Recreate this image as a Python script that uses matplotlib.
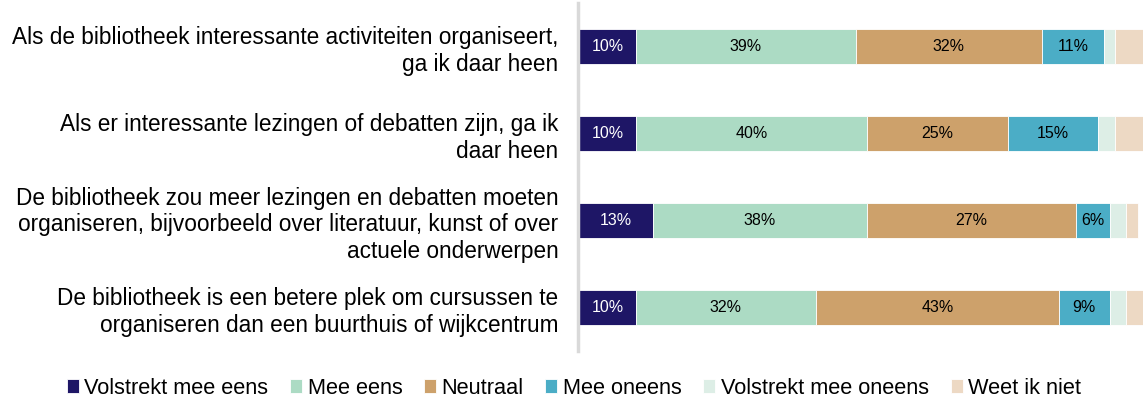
import numpy as np
import matplotlib.pyplot as plt

plt.rcParams['font.family'] = ['Liberation Sans', 'DejaVu Sans']

# stellingen (van boven naar beneden)
statements = [
    "Als de bibliotheek interessante activiteiten organiseert,\nga ik daar heen",
    "Als er interessante lezingen of debatten zijn, ga ik\ndaar heen",
    "De bibliotheek zou meer lezingen en debatten moeten\norganiseren, bijvoorbeeld over literatuur, kunst of over\nactuele onderwerpen",
    "De bibliotheek is een betere plek om cursussen te\norganiseren dan een buurthuis of wijkcentrum",
]
categories = ["Volstrekt mee eens", "Mee eens", "Neutraal", "Mee oneens",
              "Volstrekt mee oneens", "Weet ik niet"]
colors = ["#1e1666", "#acdbc4", "#cda16b", "#4badc6", "#ddeee6", "#edd9c4"]

# segment widths
volstrekt_eens = [10, 10, 13, 10]
mee_eens = [39, 41, 38, 32]
neutraal = [33, 25, 37, 43]
mee_oneens = [11, 16, 6, 9]
volstrekt_oneens = [2, 3, 3, 3]
weet_niet = [5, 5, 2, 3]

# printed labels
lab_volstrekt_eens = ["10%", "10%", "13%", "10%"]
lab_mee_eens = ["39%", "40%", "38%", "32%"]
lab_neutraal = ["32%", "25%", "27%", "43%"]
lab_mee_oneens = ["11%", "15%", "6%", "9%"]

series = [volstrekt_eens, mee_eens, neutraal, mee_oneens, volstrekt_oneens, weet_niet]
labels = [lab_volstrekt_eens, lab_mee_eens, lab_neutraal, lab_mee_oneens, None, None]

fig = plt.figure(figsize=(11.48, 4.13), dpi=100)
ax = fig.add_axes([0.5045, 0.15, 0.4915, 0.843])

y = np.arange(len(statements))
left = np.zeros(len(statements))
for vals, cat, col, labs in zip(series, categories, colors, labels):
    vals = np.array(vals, dtype=float)
    ax.barh(y, vals, left=left, height=0.4, color=col, label=cat,
            edgecolor='white', linewidth=0.6)
    if labs is not None:
        tc = 'white' if cat == "Volstrekt mee eens" else 'black'
        for yi, l, v, t in zip(y, left, vals, labs):
            ax.text(l + v / 2, yi, t, ha='center', va='center', fontsize=11.5, color=tc)
    left += vals

ax.set_xlim(0, 100)
ax.set_ylim(len(statements) - 0.5, -0.5)
ax.tick_params(axis='y', length=0, pad=14, labelsize=16.3)
ax.set_yticks(y)
ax.set_yticklabels(statements, fontsize=16.3, linespacing=1.15, ha='right')
ax.set_xticks([])
for s in ['top', 'right', 'bottom']:
    ax.spines[s].set_visible(False)
ax.spines['left'].set_color('#d9d9d9')
ax.spines['left'].set_linewidth(2.5)
ax.spines['left'].set_position(('outward', 1))

fig.legend(loc='center', bbox_to_anchor=(0.5, 0.06), ncol=6, frameon=False,
           fontsize=15.7, handlelength=0.55, handleheight=0.55, handletextpad=0.25,
           columnspacing=1.0)

fig.savefig("out.png", dpi=100)
